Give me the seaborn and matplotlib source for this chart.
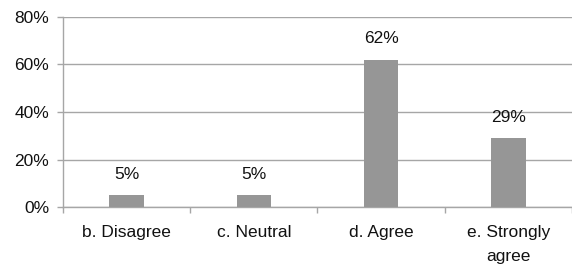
import numpy as np
import pandas as pd
import seaborn as sns
import matplotlib.pyplot as plt
from matplotlib.ticker import FixedLocator, PercentFormatter

categories = ['b. Disagree', 'c. Neutral', 'd. Agree', 'e. Strongly\nagree']
percent = [5, 5, 62, 29]
yticks = [0, 20, 40, 60, 80]

sns.set_style('white')
plt.rcParams['font.family'] = ['Liberation Sans', 'DejaVu Sans']

df = pd.DataFrame({'answer': categories, 'pct': percent})

fig = plt.figure(figsize=(5.72, 2.69), dpi=100)
ax = fig.add_axes([0.110, 0.230, 0.890, 0.707])
sns.barplot(data=df, x='answer', y='pct', color='#969696', saturation=1,
            width=0.27, linewidth=0, ax=ax, zorder=3)

for p, v in zip(ax.patches, percent):
    ax.annotate(f'{v}%', (p.get_x() + p.get_width() / 2, p.get_height()),
                xytext=(0, 15), textcoords='offset points',
                ha='center', va='center', fontsize=12.5, color='#111111')

ax.set_ylim(0, 80)
ax.set_xlim(-0.5, len(categories) - 0.5)
ax.set_yticks(yticks)
ax.yaxis.set_major_formatter(PercentFormatter(decimals=0))
ax.yaxis.grid(True, color='#A6A6A6', linewidth=1, zorder=0)
ax.set_xlabel('')
ax.set_ylabel('')

ax.set_xticks(range(len(categories)), labels=categories, linespacing=1.75)
ax.xaxis.set_minor_locator(FixedLocator(np.arange(-0.5, len(categories), 1)))
ax.tick_params(axis='x', which='major', length=0, pad=13, labelsize=12.5,
               labelcolor='#111111')
ax.tick_params(axis='x', which='minor', length=4, width=1, color='#A6A6A6',
               direction='out', bottom=True)
ax.tick_params(axis='y', which='major', length=4, width=1, color='#A6A6A6',
               direction='out', left=True, pad=6, labelsize=12.5,
               labelcolor='#111111')

for s in ['top', 'right']:
    ax.spines[s].set_visible(False)
for s in ['left', 'bottom']:
    ax.spines[s].set_color('#A6A6A6')
    ax.spines[s].set_linewidth(1)

fig.savefig('out.png', dpi=100)
